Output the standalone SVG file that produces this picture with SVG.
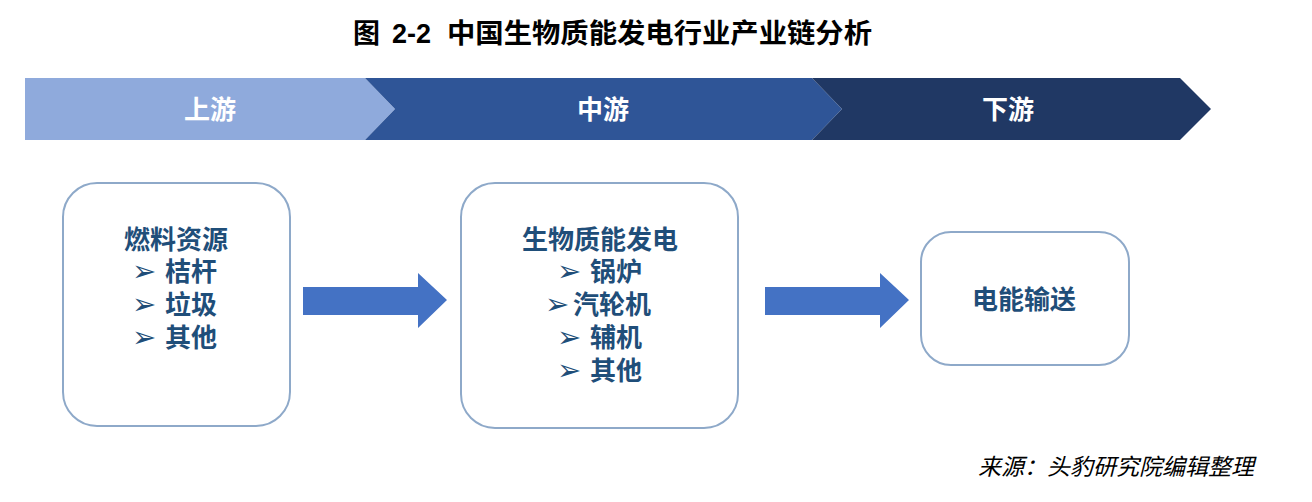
<svg xmlns="http://www.w3.org/2000/svg" width="1312" height="502" viewBox="0 0 1312 502">
<style>
.cjk{font-family:"Liberation Sans","Noto Sans CJK SC",sans-serif;}
.title{font-size:27px;font-weight:bold;fill:#000;}
.band{font-size:26px;font-weight:bold;fill:#fff;text-anchor:middle;}
.box{fill:#fff;stroke:#8ea9c9;stroke-width:2;}
.bt{font-size:26px;font-weight:bold;fill:#1f4e79;text-anchor:middle;}
.bul{font-family:"DejaVu Sans",sans-serif;font-size:29px;fill:#1f4e79;}
.src{font-size:23px;font-style:italic;fill:#000;}
.arr{fill:#4472c4;}
</style>
<rect width="1312" height="502" fill="#fff"/>
<g id="title">
<text class="cjk title" x="353" y="43">图</text>
<text class="cjk title" x="392" y="43">2-2</text>
<text class="cjk title" x="447" y="43" textLength="425" lengthAdjust="spacingAndGlyphs">中国生物质能发电行业产业链分析</text>
</g>
<g id="banner">
<polygon points="25,78 365,78 395,109 365,140 25,140" fill="#8faadc"/>
<polygon points="365,78 812,78 842,109 812,140 365,140 395,109" fill="#2f5597"/>
<polygon points="812,78 1180,78 1211,109 1180,140 812,140 842,109" fill="#203864"/>
<text class="cjk band" x="210" y="119">上游</text>
<text class="cjk band" x="603" y="119">中游</text>
<text class="cjk band" x="1008" y="119">下游</text>
</g>
<g id="node-upstream">
<rect class="box" x="63" y="183" width="227" height="243" rx="34"/>
<text class="cjk bt" x="176" y="249">燃料资源</text>
<text class="bul" x="132" y="281">➢</text>
<text class="cjk bt" x="191" y="281">桔杆</text>
<text class="bul" x="132" y="314">➢</text>
<text class="cjk bt" x="191" y="314">垃圾</text>
<text class="bul" x="132" y="347">➢</text>
<text class="cjk bt" x="191" y="347">其他</text>
</g>
<g id="node-midstream">
<rect class="box" x="461" y="183" width="277" height="245" rx="34"/>
<text class="cjk bt" x="600" y="249">生物质能发电</text>
<text class="bul" x="557" y="281">➢</text>
<text class="cjk bt" x="616" y="281">锅炉</text>
<text class="bul" x="545" y="314">➢</text>
<text class="cjk bt" x="612" y="314">汽轮机</text>
<text class="bul" x="557" y="347">➢</text>
<text class="cjk bt" x="616" y="347">辅机</text>
<text class="bul" x="557" y="380">➢</text>
<text class="cjk bt" x="616" y="380">其他</text>
</g>
<g id="node-downstream">
<rect class="box" x="921" y="232" width="208" height="133" rx="30"/>
<text class="cjk bt" x="1024" y="309">电能输送</text>
</g>
<g id="connectors">
<polygon class="arr" points="303,287 418,287 418,273 447,300 418,328 418,315 303,315"/>
<polygon class="arr" points="765,287 880,287 880,273 909,300 880,328 880,315 765,315"/>
</g>
<g id="source">
<text class="cjk src" x="978" y="475">来源：头豹研究院编辑整理</text>
</g>
</svg>
